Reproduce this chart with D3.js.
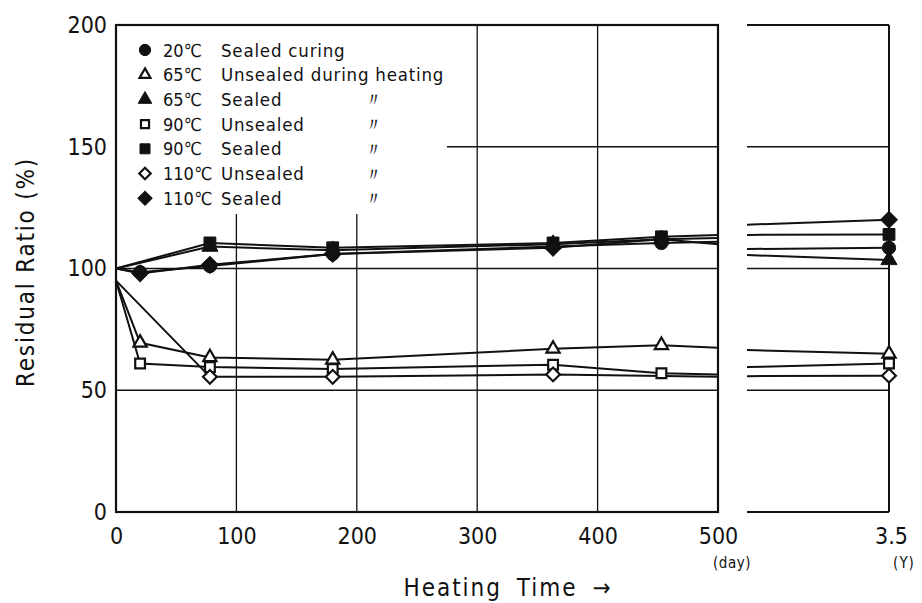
<!DOCTYPE html>
<html>
<head>
<meta charset="utf-8">
<script src="https://cdn.jsdelivr.net/npm/d3@7"></script>
<style>
body { margin: 0; background: #fff; }
text { font-family: "DejaVu Sans Condensed", "DejaVu Sans", sans-serif; fill: #111; }
</style>
</head>
<body>
<script>
// heating days where readings were taken (500 = end of the left panel, no marker)
const days = [0, 20, 78, 180, 363, 453, 500];

const temps = ["20℃", "65℃", "65℃", "90℃", "90℃", "110℃", "110℃"];
const conditions = ["Sealed curing", "Unsealed during heating", "Sealed", "Unsealed", "Sealed", "Unsealed", "Sealed"];
const dittos = ["", "", "〃", "〃", "〃", "〃", "〃"];
const shapes = ["circle", "triangle", "triangle", "square", "square", "diamond", "diamond"];
const filled = [true, false, true, false, true, false, true];

// residual ratio (%) per series, on the days above
const sealed20 = [100, 98.5, 101, 106, 109, 110.5, 111];
const unsealed65 = [95, 69.5, 63.5, 62.5, 67, 68.5, 67.5];
const sealed65 = [100, null, 109, 107.5, 110, 112, 112.5];
const unsealed90 = [95, 61, 59.5, 58.7, 60.5, 57, 56.5];
const sealed90 = [100, null, 110.5, 108.5, 110.5, 113, 113.8];
const unsealed110 = [95, null, 55.5, 55.5, 56.5, null, 55.5];
const sealed110 = [100, 98, 101.5, 106, 108.5, 112, 110];
const allSeries = [sealed20, unsealed65, sealed65, unsealed90, sealed90, unsealed110, sealed110];

// broken axis part (years): value where the line re-enters, value at 3.5 Y
const rightStart = [108, 66.5, 105.5, 59.5, 113.8, 55.8, 118];
const rightEnd = [108.5, 65, 103.5, 61, 114, 56, 120];

const yTicks = [0, 50, 100, 150, 200];
const dayTicks = [0, 100, 200, 300, 400, 500];
const yearTicks = [3.5];

const width = 922,
	height = 603;

const svg = d3.select("body")
	.append("svg")
	.attr("width", width)
	.attr("height", height);

const y = d3.scaleLinear().domain([0, 200]).range([512, 25]);
const x = d3.scaleLinear().domain([0, 500]).range([116, 718]);
const xr = d3.scaleLinear().domain([1.4, 3.5]).range([747, 889]);

// grid of the left panel
svg.append("g")
	.selectAll("line")
	.data(yTicks.slice(1, 4))
	.join("line")
	.attr("x1", x(0)).attr("x2", x(500))
	.attr("y1", d => y(d)).attr("y2", d => y(d))
	.attr("stroke", "#111").attr("stroke-width", 1.6);

svg.append("g")
	.selectAll("line")
	.data(dayTicks.slice(1, 5))
	.join("line")
	.attr("x1", d => x(d)).attr("x2", d => x(d))
	.attr("y1", y(0)).attr("y2", y(200))
	.attr("stroke", "#111").attr("stroke-width", 1.3);

// grid of the right panel
svg.append("g")
	.selectAll("line")
	.data(yTicks)
	.join("line")
	.attr("x1", xr(1.4)).attr("x2", xr(3.5))
	.attr("y1", d => y(d)).attr("y2", d => y(d))
	.attr("stroke", "#111").attr("stroke-width", d => (d === 0 || d === 200) ? 2.2 : 1.6);

svg.append("line")
	.attr("x1", xr(3.5)).attr("x2", xr(3.5))
	.attr("y1", y(0)).attr("y2", y(200))
	.attr("stroke", "#111").attr("stroke-width", 2);

// legend covers the upper-left part of the grid
svg.append("rect")
	.attr("x", x(0) + 1).attr("y", y(200) + 1)
	.attr("width", 330).attr("height", 188)
	.attr("fill", "#fff");

// frame
svg.append("rect")
	.attr("x", x(0)).attr("y", y(200))
	.attr("width", x(500) - x(0)).attr("height", y(0) - y(200))
	.attr("fill", "none").attr("stroke", "#111").attr("stroke-width", 2.2);

// axes
const yAxis = d3.axisLeft(y).tickValues(yTicks).tickSize(0).tickPadding(9);
const xAxis = d3.axisBottom(x).tickValues(dayTicks).tickSize(0).tickPadding(16);
const xrAxis = d3.axisBottom(xr).tickValues(yearTicks).tickSize(0).tickPadding(16).tickFormat(d3.format(".1f"));

svg.append("g")
	.attr("class", "y-axis")
	.attr("transform", "translate(" + x(0) + ",0)")
	.call(yAxis);

svg.append("g")
	.attr("class", "x-axis")
	.attr("transform", "translate(0," + y(0) + ")")
	.call(xAxis);

svg.append("g")
	.attr("class", "x-axis")
	.attr("transform", "translate(2," + y(0) + ")")
	.call(xrAxis);

svg.selectAll(".y-axis .domain, .x-axis .domain").remove();
svg.selectAll(".y-axis text, .x-axis text")
	.style("font-size", "23px")
	.style("font-family", "\"DejaVu Sans Condensed\", \"DejaVu Sans\", sans-serif")
	.attr("fill", "#111");

svg.append("text")
	.attr("x", x(500) + 14).attr("y", 568)
	.attr("text-anchor", "middle")
	.style("font-size", "15px")
	.style("letter-spacing", "0.5px")
	.text("(day)");

svg.append("text")
	.attr("x", xr(3.5) + 15).attr("y", 568)
	.attr("text-anchor", "middle")
	.style("font-size", "15px")
	.style("letter-spacing", "1px")
	.text("(Y)");

svg.append("text")
	.attr("x", 508).attr("y", 596)
	.attr("text-anchor", "middle")
	.style("font-size", "24px")
	.style("letter-spacing", "2px")
	.style("word-spacing", "6px")
	.text("Heating Time →");

svg.append("text")
	.attr("transform", "translate(34,272) rotate(-90)")
	.attr("text-anchor", "middle")
	.style("font-size", "24px")
	.style("letter-spacing", "1.8px")
	.text("Residual Ratio (%)");

// lines
const line = d3.line()
	.x(d => x(d.day))
	.y(d => y(d.value));

const points = allSeries.map(s => days.map((day, i) => ({ day: day, value: s[i], idx: i })).filter(p => p.value !== null));

svg.append("g")
	.selectAll("path")
	.data(points)
	.join("path")
	.attr("d", d => line(d))
	.attr("fill", "none").attr("stroke", "#111").attr("stroke-width", 2);

svg.append("g")
	.selectAll("line")
	.data(rightStart)
	.join("line")
	.attr("x1", xr(1.4)).attr("x2", xr(3.5))
	.attr("y1", d => y(d)).attr("y2", (d, i) => y(rightEnd[i]))
	.attr("stroke", "#111").attr("stroke-width", 2);

// markers
function markerPath(shape, size) {
	const type = shape === "circle" ? d3.symbolCircle
		: shape === "triangle" ? d3.symbolTriangle
		: d3.symbolSquare;
	return d3.symbol().type(type).size(size)();
}

function drawMarker(g, k, px, py, size) {
	g.append("path")
		.attr("d", markerPath(shapes[k], shapes[k] === "triangle" ? size * 0.8 : size))
		.attr("transform", "translate(" + px + "," + py + ")" + (shapes[k] === "diamond" ? " rotate(45)" : ""))
		.attr("fill", filled[k] ? "#111" : "#fff")
		.attr("stroke", "#111")
		.attr("stroke-width", filled[k] ? 1 : 2.2);
}

const markG = svg.append("g");
points.forEach((pts, k) => {
	pts.filter(p => p.idx > 0 && p.idx < days.length - 1)
		.forEach(p => drawMarker(markG, k, x(p.day), y(p.value), filled[k] ? 140 : 95));
	drawMarker(markG, k, xr(3.5), y(rightEnd[k]), filled[k] ? 140 : 95);
});

// legend
const legend = svg.append("g");
temps.forEach((t, k) => {
	const ly = 50 + k * 24.7;
	drawMarker(legend, k, 145, ly, filled[k] ? 100 : 65);
	legend.append("text").attr("x", 163).attr("y", ly + 6.5).style("font-size", "18px").text(t);
	legend.append("text").attr("x", 221).attr("y", ly + 6.5)
		.style("font-size", "18.5px").style("letter-spacing", "0.8px").text(conditions[k]);
	legend.append("text").attr("x", 364).attr("y", ly + 7).style("font-size", "19px").text(dittos[k]);
});
</script>
</body>
</html>
